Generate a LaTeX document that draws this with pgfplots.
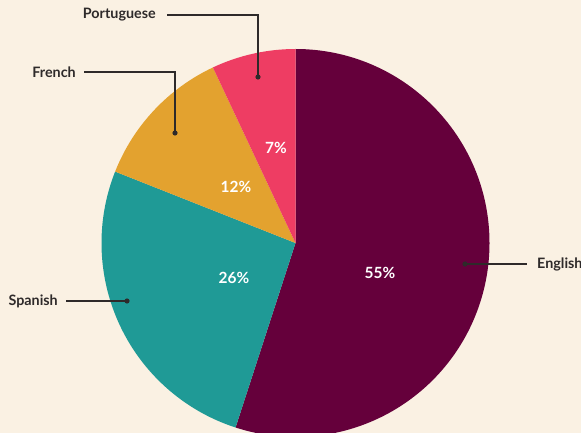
\documentclass[border=0pt]{standalone}
\usepackage{pgfplots}
\pgfplotsset{compat=1.18}
\usepackage{pgfplotstable}
\usepackage{fontspec}
\setmainfont{Lato}
\definecolor{bg}{HTML}{FAF1E3}
\definecolor{cEnglish}{HTML}{65003B}
\definecolor{cSpanish}{HTML}{1F9A96}
\definecolor{cFrench}{HTML}{E3A22F}
\definecolor{cPortuguese}{HTML}{EE3D63}
\definecolor{lead}{HTML}{2E2A2A}
\pgfplotstableread{
name value
English 55
Spanish 26
French 12
Portuguese 7
}\piedata
\begin{document}
\begin{tikzpicture}
\pgfplotstablegetelem{0}{value}\of\piedata \let\vA\pgfplotsretval
\pgfplotstablegetelem{1}{value}\of\piedata \let\vB\pgfplotsretval
\pgfplotstablegetelem{2}{value}\of\piedata \let\vC\pgfplotsretval
\pgfplotstablegetelem{3}{value}\of\piedata \let\vD\pgfplotsretval
\pgfmathsetmacro\aA{90}
\pgfmathsetmacro\aB{\aA-3.6*\vA}
\pgfmathsetmacro\aC{\aB-3.6*\vB}
\pgfmathsetmacro\aD{\aC-3.6*\vC}
\pgfmathsetmacro\aE{\aD-3.6*\vD}
\def\cx{295.5}\def\cy{190}\def\R{194}
\path[use as bounding box] (0,0) rectangle (581bp,433bp);
\fill[bg] (0,0) rectangle (581bp,433bp);
\clip (0,0) rectangle (581bp,433bp);
\begin{axis}[at={(0,0)},anchor=south west,scale only axis,width=581bp,height=433bp,
  xmin=0,xmax=581,ymin=0,ymax=433,hide axis,clip=false]
\fill[cEnglish] (axis cs:\cx,\cy) -- ++(\aA:\R bp) arc[start angle=\aA,end angle=\aB,radius=\R bp] -- cycle;
\fill[cSpanish] (axis cs:\cx,\cy) -- ++(\aB:\R bp) arc[start angle=\aB,end angle=\aC,radius=\R bp] -- cycle;
\fill[cFrench] (axis cs:\cx,\cy) -- ++(\aC:\R bp) arc[start angle=\aC,end angle=\aD,radius=\R bp] -- cycle;
\fill[cPortuguese] (axis cs:\cx,\cy) -- ++(\aD:\R bp) arc[start angle=\aD,end angle=\aE,radius=\R bp] -- cycle;
% percentage labels
\begin{scope}[every node/.style={text=white,font=\fontsize{15.5}{17}\selectfont\bfseries}]
\node at (axis cs:380,160) {\vA\%};
\node at (axis cs:234,155) {\vB\%};
\node at (axis cs:236,246) {\vC\%};
\node at (axis cs:276,285) {\vD\%};
\end{scope}
% leader lines
\begin{scope}[lead,line width=1.1bp]
\draw (axis cs:167,418) -- (axis cs:258,418) -- (axis cs:258,356);
\fill (axis cs:258,356) circle[radius=2.6bp];
\draw (axis cs:84,361) -- (axis cs:175,361) -- (axis cs:175,300);
\fill (axis cs:175,300) circle[radius=2.6bp];
\draw (axis cs:465,169) -- (axis cs:527,169);
\fill (axis cs:465,169) circle[radius=2.6bp];
\draw (axis cs:66,132) -- (axis cs:127,132);
\fill (axis cs:127,132) circle[radius=2.6bp];
\end{scope}
\begin{scope}[every node/.style={text=lead,font=\fontsize{14.4}{16}\selectfont\bfseries,inner sep=0pt}]
\node[anchor=east] at (axis cs:156,418) {Portuguese};
\node[anchor=east] at (axis cs:76,361) {French};
\node[anchor=west] at (axis cs:537,169) {English};
\node[anchor=east] at (axis cs:58,132) {Spanish};
\end{scope}
\end{axis}
\end{tikzpicture}
\end{document}
